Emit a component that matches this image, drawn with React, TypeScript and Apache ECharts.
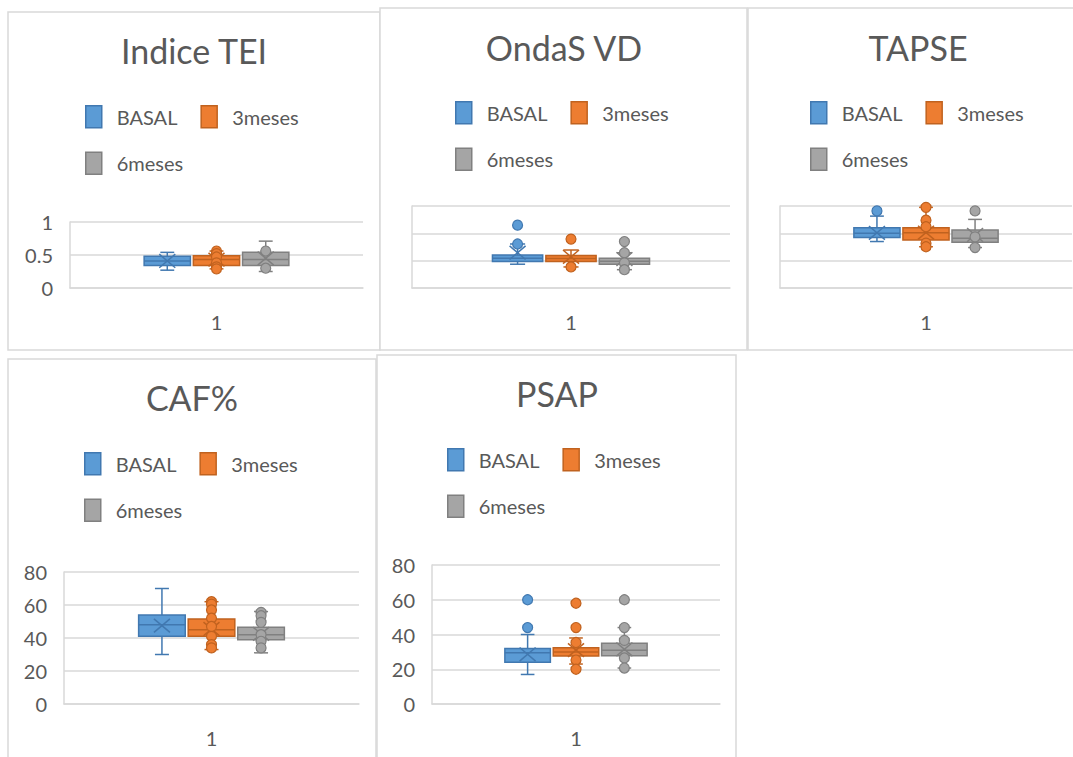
import React, { useEffect, useRef } from "react";
import * as echarts from "echarts";

const categories = ["1"];
const seriesNames = ["BASAL", "3meses", "6meses"];
const panelTitles = ["Indice TEI", "OndaS VD", "TAPSE", "CAF%", "PSAP"];

// [min, Q1, median, Q3, max] for BASAL, 3meses, 6meses
const teiBoxes = [
  [0.27, 0.34, 0.41, 0.48, 0.54],
  [0.29, 0.34, 0.43, 0.49, 0.56],
  [0.25, 0.34, 0.43, 0.54, 0.71],
];
const teiMeans = [0.41, 0.43, 0.45];
const teiPoints = [[], [0.56, 0.52, 0.47, 0.38, 0.32, 0.29], [0.56, 0.3]];

const ondaBoxes = [
  [8.7, 9.7, 10.9, 12.1, 16.1],
  [7.7, 9.7, 10.8, 11.9, 13.9],
  [6.7, 8.7, 9.8, 10.9, 12.9],
];
const ondaMeans = [12.9, 11.4, 10.6];
const ondaPoints = [[23.0, 16.1], [17.9, 7.7], [17.0, 12.9, 9.2, 6.7]];

const tapseBoxes = [
  [17.0, 18.5, 20.0, 22.0, 26.3],
  [15.1, 17.6, 20.2, 22.0, 29.5],
  [14.8, 16.7, 18.2, 21.2, 25.1],
];
const tapseMeans = [20.2, 20.3, 19.4];
const tapsePoints = [[28.2], [29.5, 24.8, 22.4, 16.4, 15.1], [28.2, 18.7, 14.8]];

const cafBoxes = [
  [30, 41, 48, 54, 70],
  [33, 41, 45, 51.5, 62],
  [31, 39, 42, 46.5, 56],
];
const cafMeans = [47.5, 45.5, 42.5];
const cafPoints = [[], [62, 60.5, 57, 52, 47, 41, 36, 34], [55.5, 53.5, 49.5, 42, 38, 34]];

const psapBoxes = [
  [17, 24, 29.5, 32, 40],
  [23, 27.6, 30, 32.4, 38],
  [20.7, 27.8, 31, 35, 44],
];
const psapMeans = [28.6, 31, 31.5];
const psapPoints = [[60, 44], [58, 44, 35.4, 25.3, 20], [60, 44, 36.6, 26.5, 20.7]];

const allBoxes = [teiBoxes, ondaBoxes, tapseBoxes, cafBoxes, psapBoxes];
const allMeans = [teiMeans, ondaMeans, tapseMeans, cafMeans, psapMeans];
const allPoints = [teiPoints, ondaPoints, tapsePoints, cafPoints, psapPoints];

const yMins = [0, 0, 0, 0, 0];
const yMaxs = [1, 30, 30, 80, 80];
const yIntervals = [0.5, 10, 10, 20, 20];
const yLabelShown = [true, false, false, true, true];

const FONT = "Lato";
const TEXT = "#595959";
const GRIDC = "#d9d9d9";
const fills = ["#5B9BD5", "#ED7D31", "#A5A5A5"];
const strokes = ["#4178B0", "#C0621F", "#808080"];

const layout = [
  { rect: [8, 12, 372, 338], title: [194, 50], legend: [85, 105], grid: [70, 222, 293, 66] },
  { rect: [380, 8, 367, 342], title: [564, 47], legend: [455, 101], grid: [412, 206, 318, 82] },
  { rect: [748, 8, 340, 342], title: [918, 47], legend: [810, 101], grid: [780, 206, 292, 82] },
  { rect: [8, 359, 368, 420], title: [192, 397], legend: [84, 452], grid: [64, 572, 295, 132] },
  { rect: [377, 355, 359, 420], title: [557, 393], legend: [447, 448], grid: [432, 565, 288, 139] },
];

function boxRenderer(gi: number) {
  return (params: any, api: any) => {
    const cat = api.value(0);
    const band = api.size([1, 0])[0];
    const cx = api.coord([cat, 0])[0] + (gi - 1) * band * 0.168;
    const hw = (band * 0.158) / 2;
    const y = (v: number) => api.coord([cat, v])[1];
    const yMin = y(api.value(1));
    const yQ1 = y(api.value(2));
    const yMed = y(api.value(3));
    const yQ3 = y(api.value(4));
    const yMax = y(api.value(5));
    const yMean = y(api.value(6));
    const st = { stroke: strokes[gi], lineWidth: 1.5, fill: null };
    const cap = hw * 0.3;
    const m = 8;
    return {
      type: "group",
      children: [
        { type: "line", shape: { x1: cx, y1: yMax, x2: cx, y2: yQ3 }, style: st },
        { type: "line", shape: { x1: cx, y1: yQ1, x2: cx, y2: yMin }, style: st },
        { type: "line", shape: { x1: cx - cap, y1: yMax, x2: cx + cap, y2: yMax }, style: st },
        { type: "line", shape: { x1: cx - cap, y1: yMin, x2: cx + cap, y2: yMin }, style: st },
        {
          type: "rect",
          shape: { x: cx - hw, y: yQ3, width: hw * 2, height: yQ1 - yQ3 },
          style: { fill: fills[gi], stroke: strokes[gi], lineWidth: 1.5 },
        },
        { type: "line", shape: { x1: cx - hw, y1: yMed, x2: cx + hw, y2: yMed }, style: st },
        { type: "line", shape: { x1: cx - m, y1: yMean - m * 0.85, x2: cx + m, y2: yMean + m * 0.85 }, style: st },
        { type: "line", shape: { x1: cx - m, y1: yMean + m * 0.85, x2: cx + m, y2: yMean - m * 0.85 }, style: st },
      ],
    };
  };
}

function pointRenderer(gi: number) {
  return (params: any, api: any) => {
    const cat = api.value(0);
    const band = api.size([1, 0])[0];
    const p = api.coord([cat, api.value(1)]);
    const cx = p[0] + (gi - 1) * band * 0.168;
    return {
      type: "circle",
      shape: { cx, cy: p[1], r: 5 },
      style: { fill: fills[gi], stroke: strokes[gi], lineWidth: 1.2 },
    };
  };
}

export default function App() {
  const ref = useRef<HTMLDivElement>(null);
  useEffect(() => {
    if (!ref.current) return;
    const chart = echarts.init(ref.current, undefined, { renderer: "svg" });

    const grids: any[] = [];
    const xAxes: any[] = [];
    const yAxes: any[] = [];
    const legends: any[] = [];
    const series: any[] = [];
    const graphics: any[] = [];

    layout.forEach((L, pi) => {
      graphics.push({
        type: "rect",
        z: -10,
        shape: { x: L.rect[0], y: L.rect[1], width: L.rect[2], height: L.rect[3] },
        style: { fill: "#ffffff", stroke: GRIDC, lineWidth: 1.5 },
      });
      graphics.push({
        type: "text",
        z: 10,
        x: L.title[0],
        y: L.title[1],
        style: {
          text: panelTitles[pi],
          align: "center",
          verticalAlign: "middle",
          fontSize: 34,
          fontFamily: FONT,
          fill: TEXT,
        },
      });
      grids.push({ left: L.grid[0], top: L.grid[1], width: L.grid[2], height: L.grid[3] });
      xAxes.push({
        gridIndex: pi,
        type: "category",
        data: categories,
        boundaryGap: true,
        axisLine: { show: true, lineStyle: { color: GRIDC, width: 1.5 } },
        axisTick: { show: false },
        axisLabel: { fontSize: 20, color: TEXT, fontFamily: FONT, margin: 24 },
        splitLine: { show: false },
      });
      yAxes.push({
        gridIndex: pi,
        type: "value",
        min: yMins[pi],
        max: yMaxs[pi],
        interval: yIntervals[pi],
        axisLine: { show: true, lineStyle: { color: GRIDC, width: 1.5 } },
        axisTick: { show: false },
        axisLabel: { show: yLabelShown[pi], fontSize: 20, color: TEXT, fontFamily: FONT, margin: 17 },
        splitLine: { show: true, lineStyle: { color: GRIDC, width: 1.5 } },
      });
      legends.push({
        left: L.legend[0],
        top: L.legend[1],
        width: 240,
        padding: 0,
        orient: "horizontal",
        itemWidth: 16,
        itemHeight: 22,
        itemGap: 23,
        textStyle: { fontSize: 20, color: TEXT, fontFamily: FONT, padding: [0, 6, 0, 10] },
        data: seriesNames.map((n, gi) => ({
          name: n,
          icon: "rect",
          itemStyle: { color: fills[gi], borderColor: strokes[gi], borderWidth: 1.5 },
        })),
      });
      seriesNames.forEach((n, gi) => {
        const b = allBoxes[pi][gi];
        series.push({
          type: "custom",
          name: n,
          xAxisIndex: pi,
          yAxisIndex: pi,
          renderItem: boxRenderer(gi),
          encode: { x: 0, y: [1, 2, 3, 4, 5, 6] },
          data: [[0, b[0], b[1], b[2], b[3], b[4], allMeans[pi][gi]]],
          itemStyle: { color: fills[gi] },
          z: 2,
        });
      });
      seriesNames.forEach((n, gi) => {
        series.push({
          type: "custom",
          name: n,
          xAxisIndex: pi,
          yAxisIndex: pi,
          renderItem: pointRenderer(gi),
          encode: { x: 0, y: 1 },
          data: allPoints[pi][gi].map((v) => [0, v]),
          itemStyle: { color: fills[gi] },
          z: 3,
        });
      });
    });

    chart.setOption({
      animation: false,
      backgroundColor: "#ffffff",
      textStyle: { fontFamily: FONT },
      grid: grids,
      xAxis: xAxes,
      yAxis: yAxes,
      legend: legends,
      series,
      graphic: graphics,
    });
    return () => chart.dispose();
  }, []);
  return (
    <div
      ref={ref}
      style={{ position: "absolute", left: 0, top: 0, width: 1073, height: 757, background: "#fff" }}
    />
  );
}
